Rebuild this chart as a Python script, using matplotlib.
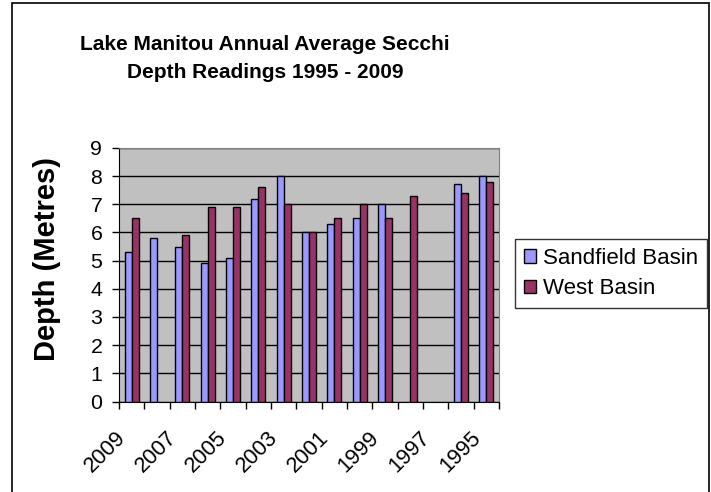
import numpy as np
import matplotlib
matplotlib.use("Agg")
import matplotlib.pyplot as plt
import matplotlib.transforms as mtransforms
from matplotlib import font_manager
from matplotlib.patches import Rectangle

# -------------------------------- DONNEES ------------------------------------
years = [2009, 2008, 2007, 2006, 2005, 2004, 2003, 2002, 2001, 2000, 1999, 1998, 1997, 1996, 1995]
sandfield = [5.3, 5.8, 5.5, 4.9, 5.1, 7.2, 8.0, 6.0, 6.3, 6.5, 7.0, np.nan, np.nan, 7.7, 8.0]
west = [6.5, np.nan, 5.9, 6.9, 6.9, 7.6, 7.0, 6.0, 6.5, 7.0, 6.5, 7.3, np.nan, 7.4, 7.8]
year_labels = ["2009", "2007", "2005", "2003", "2001", "1999", "1997", "1995"]
y_ticks = list(range(0, 10))


def has_font(name):
    try:
        font_manager.findfont(font_manager.FontProperties(family=name), fallback_to_default=False)
        return True
    except Exception:
        return False


# police etroite si dispo, sinon on reduit la taille
if has_font("Liberation Sans Narrow"):
    fam = "Liberation Sans Narrow"
    k = 1.0
else:
    fam = "Liberation Sans"
    k = 0.9
plt.rcParams["font.family"] = fam

fig = plt.figure(figsize=(7.11, 4.92), dpi=100)
ax = fig.add_axes([119 / 711, 1 - 401.6 / 492, 380 / 711, 253.8 / 492])
ax.set_facecolor("#C0C0C0")

x = np.arange(len(years))
w = 0.28
ax.bar(x - w / 2, sandfield, w, color="#9999FF", edgecolor="black", linewidth=1, label="Sandfield Basin", zorder=3)
ax.bar(x + w / 2, west, w, color="#993366", edgecolor="black", linewidth=1, label="West Basin", zorder=3)

ax.set_xlim(-0.5, len(years) - 0.5)
ax.set_ylim(0, 9)
ax.set_yticks(y_ticks)
ax.yaxis.grid(True, color="black", linewidth=1, zorder=1)
ax.set_axisbelow(True)

# etiquettes une annee sur deux
ax.set_xticks(x[::2])
ax.set_xticklabels(year_labels, rotation=45, ha="right", va="center", rotation_mode="anchor")
ax.set_xticks(np.arange(-0.5, len(years)), minor=True)
ax.tick_params(axis="x", which="major", length=0, pad=24)
ax.tick_params(axis="x", which="minor", length=5, width=1, color="black", direction="out")
ax.tick_params(axis="y", length=5, width=1, direction="out", pad=7)
decal = mtransforms.ScaledTranslation(-9 / 100, 0, fig.dpi_scale_trans)
for lab in ax.get_xticklabels():
    lab.set_fontsize(17.5 * k)
    lab.set_transform(lab.get_transform() + decal)
for lab in ax.get_yticklabels():
    lab.set_fontsize(17 * k)

ax.spines["left"].set_color("black")
ax.spines["bottom"].set_color("black")
ax.spines["top"].set_color("#808080")
ax.spines["right"].set_color("#808080")

fig.text(265 / 711, 1 - 59 / 492, "Lake Manitou Annual Average Secchi\nDepth Readings 1995 - 2009",
         ha="center", va="center", fontsize=15, fontweight="bold", linespacing=1.6)
fig.text(47.5 / 711, 1 - 259 / 492, "Depth (Metres)", rotation=90, ha="center", va="center",
         fontsize=21, fontweight="bold", family="Liberation Sans")

leg = fig.legend(loc="upper left", bbox_to_anchor=(515 / 711, 1 - 239 / 492), fontsize=16 * k / 0.9,
                 frameon=True, fancybox=False, edgecolor="black", handlelength=0.55, handleheight=0.55,
                 handletextpad=0.3, borderpad=0.4, labelspacing=0.42, borderaxespad=0)
leg.get_frame().set_linewidth(1)

# cadre autour de la figure (pas de bord en bas)
fig.patches.append(Rectangle((12 / 711, -0.05), 697 / 711, 1.05 - 3 / 492, transform=fig.transFigure,
                             fill=False, edgecolor="black", linewidth=1.2))

fig.savefig("out.png", dpi=100)
